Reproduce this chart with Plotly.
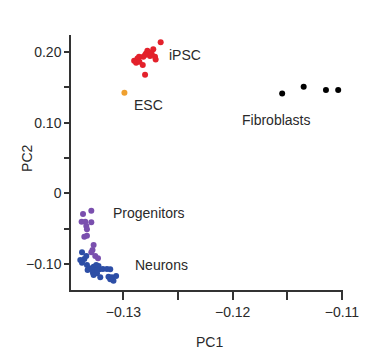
import plotly.graph_objects as go

ipsc_x = [-0.12659, -0.12727, -0.12781, -0.12793, -0.12763, -0.12741, -0.12711, -0.12705, -0.12757,
          -0.12802, -0.12818, -0.12857, -0.12872, -0.12902, -0.12884, -0.12854, -0.12823, -0.12802]
ipsc_y = [0.2136, 0.2037, 0.2017, 0.1980, 0.1989, 0.1971, 0.1932, 0.1895, 0.1942,
          0.1956, 0.1932, 0.1932, 0.1909, 0.1875, 0.1847, 0.1861, 0.1815, 0.1676]
esc_x = [-0.12991]
esc_y = [0.1423]
fib_x = [-0.11547, -0.11350, -0.11146, -0.11034]
fib_y = [0.1414, 0.1508, 0.1461, 0.1461]
prog_x = [-0.13370, -0.13294, -0.13383, -0.13349, -0.13294, -0.13340, -0.13334, -0.13358, -0.13334,
          -0.13273, -0.13283, -0.13294, -0.13258, -0.13233]
prog_y = [-0.0293, -0.0246, -0.0403, -0.0403, -0.0410, -0.0463, -0.0509, -0.0614, -0.0600,
          -0.0731, -0.0802, -0.0835, -0.0887, -0.0919]
neur_x = [-0.13379, -0.13395, -0.13358, -0.13340, -0.13379, -0.13334, -0.13310, -0.13328, -0.13288,
          -0.13273, -0.13249, -0.13228, -0.13219, -0.13242, -0.13188, -0.13151, -0.13121, -0.13279,
          -0.13242, -0.13212, -0.13137, -0.13106, -0.13091, -0.13067, -0.13121, -0.13273]
neur_y = [-0.0835, -0.0943, -0.0929, -0.0887, -0.0982, -0.1014, -0.1061, -0.1085, -0.1075,
          -0.1038, -0.1014, -0.1028, -0.1075, -0.1085, -0.1071, -0.1071, -0.1075, -0.1123,
          -0.1132, -0.1188, -0.1180, -0.1188, -0.1236, -0.1170, -0.1216, -0.1156]

x_tickvals = [-0.13, -0.125, -0.12, -0.115, -0.11]
x_ticktext = ["\u22120.13", "", "\u22120.12", "", "\u22120.11"]
y_tickvals = [-0.10, -0.05, 0.0, 0.05, 0.10, 0.15, 0.20]
y_ticktext = ["\u22120.10", "", "0", "", "0.10", "", "0.20"]

groups = [
    ("iPSC", ipsc_x, ipsc_y, "#e3212b", -0.12438, 0.1956),
    ("ESC", esc_x, esc_y, "#efa02f", -0.12775, 0.1249),
    ("Fibroblasts", fib_x, fib_y, "#000000", -0.11602, 0.1037),
    ("Progenitors", prog_x, prog_y, "#7a4fae", -0.12765, -0.0280),
    ("Neurons", neur_x, neur_y, "#2d4ea6", -0.12647, -0.1014),
]

fig = go.Figure()
font = "Liberation Sans, Arial, sans-serif"
txtcol = "#2a2a2a"
for name, xs, ys, col, lx, ly in groups:
    fig.add_trace(go.Scatter(x=xs, y=ys, mode="markers", name=name,
                             marker=dict(color=col, size=6, line=dict(width=0))))
    fig.add_annotation(x=lx, y=ly, text=name, showarrow=False,
                       xanchor="center", yanchor="middle",
                       font=dict(family=font, size=14, color=txtcol))

# axis titles
fig.add_annotation(xref="paper", yref="paper", x=0.511, y=-0.204, text="PC1", showarrow=False,
                   xanchor="center", yanchor="middle",
                   font=dict(family=font, size=14, color=txtcol))
fig.add_annotation(xref="paper", yref="paper", x=-0.162, y=0.5176, text="PC2", showarrow=False,
                   xanchor="center", yanchor="middle",
                   textangle=-90, font=dict(family=font, size=14, color=txtcol))

fig.update_layout(
    width=392, height=363,
    margin=dict(l=63, r=57, t=27, b=81),
    paper_bgcolor="white", plot_bgcolor="white",
    showlegend=False,
    font=dict(family=font, size=14, color=txtcol),
)
fig.update_xaxes(range=[-0.1348, -0.1099], tickvals=x_tickvals, ticktext=x_ticktext,
                 ticks="outside", ticklen=8, tickwidth=1.5, tickcolor="#333",
                 showline=True, linecolor="#333", linewidth=1.5, showgrid=False, zeroline=False)
fig.update_yaxes(range=[-0.1368, 0.224], tickvals=y_tickvals, ticktext=y_ticktext,
                 ticks="outside", ticklen=5, tickwidth=1.5, tickcolor="#333",
                 showline=True, linecolor="#333", linewidth=1.5, showgrid=False, zeroline=False)

fig.write_html("out.html")
